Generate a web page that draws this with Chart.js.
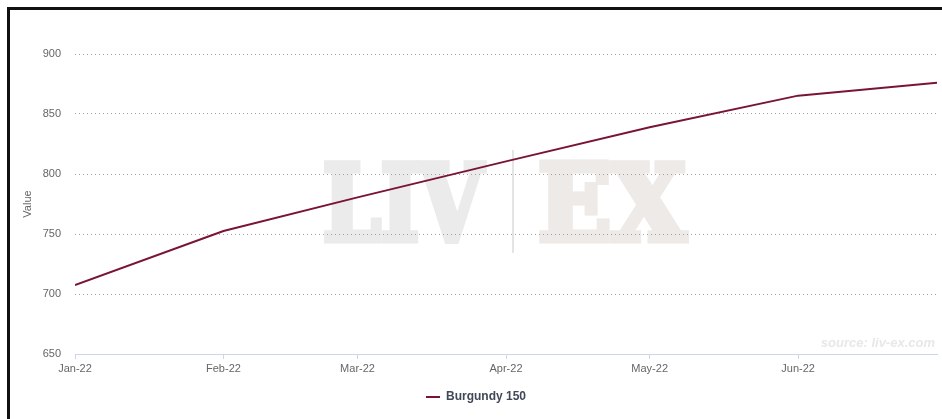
<!DOCTYPE html>
<html>
<head>
<meta charset="utf-8">
<script src="https://cdn.jsdelivr.net/npm/chart.js@4/dist/chart.umd.min.js"></script>
<style>
  html, body { margin: 0; padding: 0; background: #fff; }
  .frame {
    position: absolute;
    left: 7px;
    top: 7px;
    width: 940px;
    height: 420px;
    border-left: 3px solid #111;
    border-top: 3px solid #111;
  }
  #chart { position: absolute; left: 0; top: 0; }
</style>
</head>
<body>
<div class="frame"></div>
<canvas id="chart" width="942" height="419"></canvas>
<script>
const seriesName = "Burgundy 150";
const pointDates = ["2022-01-01", "2022-02-01", "2022-03-01", "2022-04-01", "2022-05-01", "2022-06-01", "2022-06-30"];
const pointValues = [707.5, 752.5, 780.5, 810.5, 839, 865.3, 876];
const tickDates = ["2022-01-01", "2022-02-01", "2022-03-01", "2022-04-01", "2022-05-01", "2022-06-01"];
const tickLabels = ["Jan-22", "Feb-22", "Mar-22", "Apr-22", "May-22", "Jun-22"];
const yTicks = [650, 700, 750, 800, 850, 900];

const startDay = Date.UTC(2022, 0, 1);
function dayOf(s) {
  const [y, m, d] = s.split("-").map(Number);
  return Math.round((Date.UTC(y, m - 1, d) - startDay) / 86400000);
}

const tickDays = tickDates.map(dayOf);
const points = pointDates.map((d, i) => ({ x: dayOf(d), y: pointValues[i] }));

const font = "'Liberation Sans', Arial, sans-serif";

// LIV|EX watermark and source note
function drawWord(ctx, text, x, base, width, color) {
  const w = ctx.measureText(text).width;
  ctx.save();
  ctx.translate(x, base);
  ctx.scale(width / w, 1);
  ctx.fillStyle = color;
  ctx.strokeStyle = color;
  ctx.lineWidth = 7;
  ctx.lineJoin = "miter";
  ctx.fillText(text, 0, 0);
  ctx.strokeText(text, 0, 0);
  ctx.restore();
}

const watermark = {
  id: "watermark",
  beforeDraw(chart) {
    const ctx = chart.ctx;
    ctx.save();
    ctx.font = "bold 104px 'DejaVu Serif', 'Liberation Serif', serif";
    ctx.textBaseline = "alphabetic";
    drawWord(ctx, "LIV", 323, 240, 160, "#ebebeb");
    drawWord(ctx, "EX", 538, 240, 148, "#eeeae8");
    ctx.fillStyle = "#e4e4e4";
    ctx.fillRect(512, 150, 2, 103);
    ctx.restore();
  },
  afterDraw(chart) {
    const ctx = chart.ctx;
    ctx.save();
    ctx.font = "italic bold 13px " + font;
    ctx.fillStyle = "#e8e8e8";
    ctx.textAlign = "right";
    ctx.textBaseline = "middle";
    ctx.fillText("source: liv-ex.com", 935, 343);
    ctx.restore();
  },
};

new Chart(document.getElementById("chart"), {
  type: "line",
  data: {
    datasets: [
      {
        label: seriesName,
        data: points,
        borderColor: "#7a1437",
        backgroundColor: "#7a1437",
        borderWidth: 2,
        pointRadius: 0,
        tension: 0,
      },
    ],
  },
  options: {
    responsive: false,
    animation: false,
    devicePixelRatio: 1,
    layout: { padding: { left: 15, right: 5, top: 54, bottom: 6 } },
    plugins: {
      tooltip: { enabled: false },
      legend: {
        position: "bottom",
        labels: {
          usePointStyle: true,
          pointStyle: "line",
          pointStyleWidth: 14,
          padding: 10,
          color: "#404858",
          font: { family: font, size: 12, weight: "bold" },
        },
      },
    },
    scales: {
      x: {
        type: "linear",
        min: tickDays[0],
        max: points[points.length - 1].x,
        afterBuildTicks(scale) {
          scale.ticks = tickDays.map((v) => ({ value: v }));
        },
        afterFit(scale) {
          scale.height = 27;
        },
        ticks: {
          autoSkip: false,
          maxRotation: 0,
          padding: 3,
          color: "#666",
          font: { family: font, size: 11 },
          callback: (v) => tickLabels[tickDays.indexOf(v)],
        },
        grid: {
          drawOnChartArea: false,
          drawTicks: true,
          tickLength: 5,
          color: "#ccd6eb",
        },
        border: { display: true, color: "#ccd6eb", width: 1 },
      },
      y: {
        min: yTicks[0],
        max: yTicks[yTicks.length - 1],
        afterBuildTicks(scale) {
          scale.ticks = yTicks.map((v) => ({ value: v }));
        },
        afterFit(scale) {
          scale.width = 60;
        },
        ticks: {
          padding: 14,
          color: "#666",
          font: { family: font, size: 11 },
        },
        grid: {
          drawTicks: false,
          color: (c) => (c.tick && c.tick.value === yTicks[0] ? "rgba(0,0,0,0)" : "#a0a0a0"),
          lineWidth: 1,
        },
        border: { display: false, dash: [1, 3] },
        title: {
          display: true,
          text: "Value",
          color: "#666",
          font: { family: font, size: 11 },
          padding: { top: 6, bottom: 0 },
        },
      },
    },
  },
  plugins: [watermark],
});
</script>
</body>
</html>
